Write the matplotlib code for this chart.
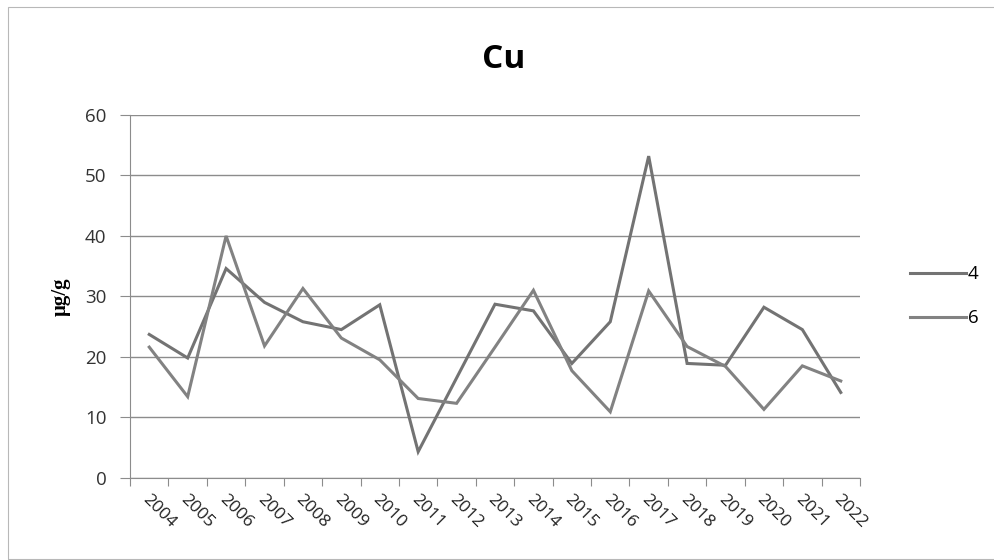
import matplotlib.pyplot as plt
import matplotlib.patches as patches
import numpy as np

years = [str(y) for y in range(2004, 2023)]
site_4 = [23.7, 19.8, 34.6, 29.0, 25.8, 24.5, 28.6, 4.3, 16.5, 28.7,
          27.6, 18.9, 25.8, 53.2, 18.9, 18.6, 28.2, 24.5, 14.1]
site_6 = [21.6, 13.4, 40.0, 21.8, 31.3, 23.1, 19.5, 13.1, 12.3, 21.6,
          31.0, 17.7, 10.9, 30.9, 21.7, 18.4, 11.3, 18.5, 16.0]
series_names = ["4", "6"]
y_ticks = [0, 10, 20, 30, 40, 50, 60]

fig = plt.figure(figsize=(9.95, 5.6), dpi=100)
ax = fig.add_axes([0.1307, 0.147, 0.7336, 0.6476])

# thin frame round the chart area
fig.patches.append(patches.Rectangle((8 / 995, 1 / 560), 1.2, 552 / 560,
                                     transform=fig.transFigure, fill=False,
                                     edgecolor='#b8b8b8', lw=0.8))

x = np.arange(len(years))
line_colors = ['#737373', '#828282']
for vals, name, c in zip([site_4, site_6], series_names, line_colors):
    ax.plot(x, vals, color=c, lw=2.2, label=name, solid_joinstyle='miter')

ax.set_xlim(-0.5, len(years) - 0.5)
ax.set_ylim(0, 60)
ax.set_yticks(y_ticks)
ax.yaxis.grid(True, color='#8c8c8c', lw=1.0)
ax.set_axisbelow(True)

for side in ['top', 'right']:
    ax.spines[side].set_visible(False)
ax.spines['left'].set_color('#8c8c8c')
ax.spines['bottom'].set_color('#8c8c8c')

# category ticks sit between the years
ax.set_xticks(np.arange(-0.5, len(years)), minor=False)
ax.set_xticklabels([])
ax.tick_params(axis='x', direction='out', length=6, color='#8c8c8c')
ax.tick_params(axis='y', direction='out', length=7, color='#8c8c8c',
               labelsize=13.5, labelcolor='#333333', pad=10)
for lbl in ax.get_yticklabels():
    lbl.set_fontfamily('Open Sans')

for i, yr in enumerate(years):
    ax.text(i - 0.12, -3.2, yr, rotation=-45, ha='left', va='center',
            rotation_mode='anchor', fontsize=12.5, color='#222222',
            family='Open Sans')

ax.set_ylabel("\u03bcg/g", fontsize=15, fontweight='bold',
              family='Liberation Serif', labelpad=10)

fig.text(0.506, 0.893, "Cu", ha='center', va='center', fontsize=24,
         fontweight='bold', family='Open Sans')

ax.legend(loc='center left', bbox_to_anchor=(1.045, 0.5), frameon=False,
          handlelength=3.0, handletextpad=0.1, labelspacing=1.4,
          prop={'family': 'Open Sans', 'size': 13.5})

fig.savefig("out.png", dpi=100)
